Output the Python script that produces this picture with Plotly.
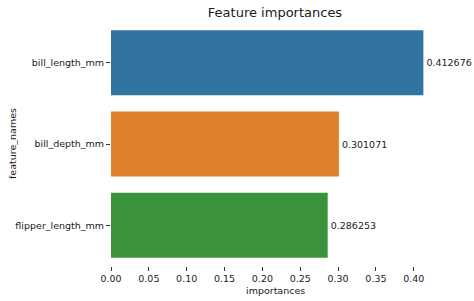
import plotly.graph_objects as go

features = ["bill_length_mm", "bill_depth_mm", "flipper_length_mm"]
importances = [0.412676, 0.301071, 0.286253]
labels = ["0.412676", "0.301071", "0.286253"]
colors = ["#3274a1", "#e1812c", "#3a923a"]
x_title = "importances"
y_title = "feature_names"

fs = 9.5

fig = go.Figure(go.Bar(
    x=importances, y=features, orientation="h",
    marker=dict(color=colors, line=dict(width=0)),
    width=0.8,
    text=labels, textposition="outside", cliponaxis=False,
    textfont=dict(family="DejaVu Sans", size=fs, color="#1a1a1a"),
))

fig.update_layout(
    width=474, height=301,
    margin=dict(l=111, r=35, t=22, b=35),
    paper_bgcolor="white", plot_bgcolor="white",
    font=dict(family="DejaVu Sans", size=fs, color="#1a1a1a"),
    title=dict(text="Feature importances", x=0.5, xref="paper", y=0.975, yanchor="top",
               font=dict(size=13, color="#1a1a1a")),
    showlegend=False,
    uniformtext=dict(minsize=9, mode="show"),
    annotations=[
        dict(text=x_title, xref="paper", yref="paper", x=0.5, y=0, yshift=-24,
             xanchor="center", yanchor="middle", showarrow=False,
             font=dict(size=fs, color="#1a1a1a")),
        dict(text=y_title, xref="paper", yref="paper", x=0, y=0.5, xshift=-99,
             xanchor="center", yanchor="middle", showarrow=False, textangle=-90,
             font=dict(size=fs, color="#1a1a1a")),
    ],
)
fig.update_xaxes(
    range=[0, 0.4333], tickvals=[0, 0.05, 0.1, 0.15, 0.2, 0.25, 0.3, 0.35, 0.4],
    ticktext=["0.00", "0.05", "0.10", "0.15", "0.20", "0.25", "0.30", "0.35", "0.40"],
    ticks="outside", ticklen=4, tickcolor="#333", showgrid=False, zeroline=False,
    showline=False, automargin=False,
    tickfont=dict(size=fs),
)
fig.update_yaxes(
    autorange="reversed", ticks="outside", ticklen=4, tickcolor="#333",
    showgrid=False, zeroline=False, showline=False, automargin=False,
    tickfont=dict(size=fs),
)

fig.write_html("out.html")
